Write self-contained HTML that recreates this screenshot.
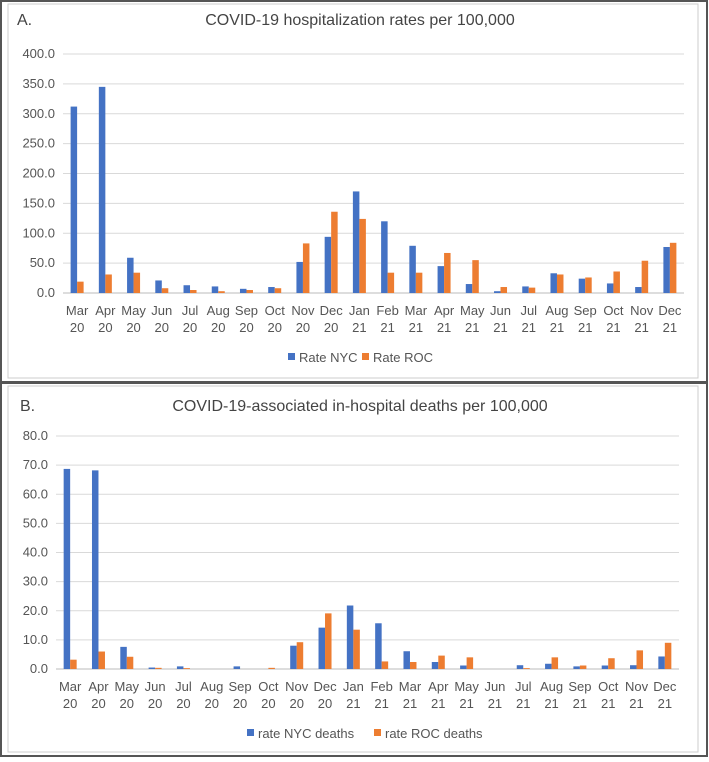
<!DOCTYPE html>
<html><head><meta charset="utf-8"><style>
body{margin:0;background:#fff;}
svg text{font-family:"Liberation Sans",sans-serif;}
</style></head><body>
<svg id="s" width="709" height="757" xmlns="http://www.w3.org/2000/svg">
<rect x="1" y="1" width="706" height="381" fill="none" stroke="#555" stroke-width="2"/>
<rect x="8" y="4" width="690" height="374" fill="none" stroke="#ccc" stroke-width="1"/>
<rect x="1" y="383" width="706" height="373" fill="none" stroke="#555" stroke-width="2"/>
<rect x="8" y="386" width="690" height="366" fill="none" stroke="#ccc" stroke-width="1"/>
<text x="17" y="25" font-size="16" fill="#444">A.</text>
<text x="360" y="25" font-size="16" fill="#444" text-anchor="middle">COVID-19 hospitalization rates per 100,000</text>
<text x="20" y="411" font-size="16" fill="#444">B.</text>
<text x="360" y="411" font-size="16" fill="#444" text-anchor="middle">COVID-19-associated in-hospital deaths per 100,000</text>
<g id="ga"></g><g id="gb"></g>
</svg>
<script>
const categories=["Mar|20","Apr|20","May|20","Jun|20","Jul|20","Aug|20","Sep|20","Oct|20","Nov|20","Dec|20","Jan|21","Feb|21","Mar|21","Apr|21","May|21","Jun|21","Jul|21","Aug|21","Sep|21","Oct|21","Nov|21","Dec|21"];
const hospNYC=[312,345,59,21,13,11,7,10,52,94,170,120,79,45,15,3,11,33,24,16,10,77];
const hospROC=[19,31,34,8,5,3,5,8,83,136,124,34,34,67,55,10,9,31,26,36,54,84];
const hospTicks=[0,50,100,150,200,250,300,350,400];
const deathNYC=[68.7,68.2,7.6,0.5,0.9,0,0.9,0,8,14.2,21.8,15.7,6.1,2.4,1.2,0,1.3,1.8,0.9,1.2,1.3,4.3];
const deathROC=[3.2,6,4.2,0.4,0.3,0,0,0.4,9.2,19.1,13.5,2.6,2.4,4.6,4,0,0.3,4,1.2,3.7,6.4,9];
const deathTicks=[0,10,20,30,40,50,60,70,80];
const NS="http://www.w3.org/2000/svg";
function mk(p,t,a){const e=document.createElementNS(NS,t);for(const k in a)e.setAttribute(k,a[k]);p.appendChild(e);return e;}
function draw(g,cfg){
  const {left,right,y0,yTop,max,ticks,s1,s2,leg,legY,legX,pre}=cfg;
  const bw=(right-left)/categories.length;
  const xs=i=>left+bw*(i+0.5);
  const ys=v=>y0-(v/max)*(y0-yTop);
  ticks.forEach(t=>{
    const l=mk(g,'line',{x1:left,x2:right,y1:ys(t),y2:ys(t),stroke:t===0?'#bbb':'#d9d9d9','stroke-width':1});
    
    
    const tx=mk(g,'text',{x:left-8,y:ys(t)+4,'font-size':13,fill:'#555','text-anchor':'end'});
    tx.textContent=t.toFixed(1);
    
    
  });
  categories.forEach((c,i)=>{
    const w=6.5;
    const b1=mk(g,'rect',{x:xs(i)-w,y:ys(s1[i]),width:w,height:y0-ys(s1[i]),fill:'#4472C4'});
    
    
    const b2=mk(g,'rect',{x:xs(i),y:ys(s2[i]),width:w,height:y0-ys(s2[i]),fill:'#ED7D31'});
    
    
    const [m,yr]=c.split('|');
    const t1=mk(g,'text',{x:xs(i),y:y0+22,'font-size':13,fill:'#555','text-anchor':'middle'});
    t1.textContent=m;
    
    
    const t2=mk(g,'text',{x:xs(i),y:y0+39,'font-size':13,fill:'#555','text-anchor':'middle'});
    t2.textContent=yr;
    
    
  });
  [[leg[0],'#4472C4',legX[0]],[leg[1],'#ED7D31',legX[1]]].forEach(([n,col,x])=>{
    const r=mk(g,'rect',{x:x,y:legY-9,width:7,height:7,fill:col});
    
    
    const t=mk(g,'text',{x:x+11,y:legY,'font-size':13,fill:'#555'});
    t.textContent=n;
    
    
  });
}
draw(document.getElementById('ga'),{left:63,right:684,y0:293,yTop:54,max:400,ticks:hospTicks,s1:hospNYC,s2:hospROC,leg:['Rate NYC','Rate ROC'],legY:362,legX:[288,362],pre:'a-'});
draw(document.getElementById('gb'),{left:56,right:679,y0:669,yTop:436,max:80,ticks:deathTicks,s1:deathNYC,s2:deathROC,leg:['rate NYC deaths','rate ROC deaths'],legY:738,legX:[247,374],pre:'b-'});
</script>
</body></html>
